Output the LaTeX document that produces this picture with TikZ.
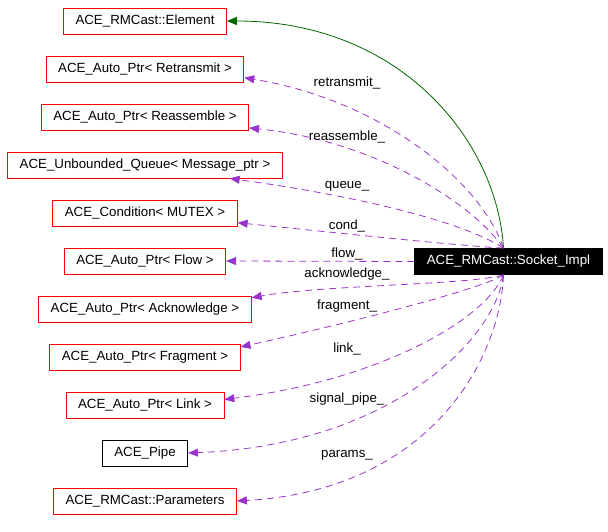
\documentclass[tikz,border=0pt]{standalone}
\usepackage{fontspec}
\setmainfont{Liberation Sans}
\usetikzlibrary{shapes,backgrounds}
\usetikzlibrary{arrows.meta}
\definecolor{member}{HTML}{9A32CD}
\definecolor{inherit}{HTML}{006400}
\tikzset{
  cls/.style = {draw = red, minimum height = 26pt, inner xsep = 12pt, inner ysep = 0pt, font = \fontsize{13.3}{16}\selectfont},
  use/.style = {member, dash pattern = on 7pt off 5pt, -{Triangle[length=10pt, width=8pt]}},
  lbl/.style = {font = \fontsize{13.3}{16}\selectfont, inner sep = 0pt}
}
\begin{document}
\begin{tikzpicture}[x = 1pt, y = -1pt, line width = 0.8pt]
\useasboundingbox (0,0) rectangle (608,531);
\node[cls] (elem) at (145,21) {ACE\_RMCast::Element};
\node[cls] (retr) at (145,69) {ACE\_Auto\_Ptr< Retransmit >};
\node[cls] (reas) at (145,117) {ACE\_Auto\_Ptr< Reassemble >};
\node[cls] (queue) at (145,165) {ACE\_Unbounded\_Queue< Message\_ptr >};
\node[cls] (cond) at (145,213) {ACE\_Condition< MUTEX >};
\node[cls] (flow) at (145,261) {ACE\_Auto\_Ptr< Flow >};
\node[cls] (ack) at (145,309) {ACE\_Auto\_Ptr< Acknowledge >};
\node[cls] (frag) at (145,357) {ACE\_Auto\_Ptr< Fragment >};
\node[cls] (link) at (145,405) {ACE\_Auto\_Ptr< Link >};
\node[cls, draw = black] (pipe) at (145,453) {ACE\_Pipe};
\node[cls] (params) at (145,501) {ACE\_RMCast::Parameters};
\node[cls, draw = black, fill = black, text = white] (sock) at (508.5,261.5) {ACE\_RMCast::Socket\_Impl};
\draw[inherit, -{Triangle[length=10pt, width=8pt]}] ([xshift=-5pt]sock.north) .. controls (497,140) and (400,21) .. (elem.east);
\draw[use] ([xshift=-5pt]sock.north) .. controls (480,180) and (380,100) .. (retr.-5);
\draw[use] ([xshift=-5pt]sock.north) .. controls (470,200) and (370,140) .. (reas.-6);
\draw[use] ([xshift=-5pt]sock.north) .. controls (460,220) and (350,195) .. (queue.-9);
\draw[use] ([xshift=-5pt]sock.north) .. controls (450,245) and (330,232) .. (cond.-6);
\draw[use] (sock.west) -- (flow.east);
\draw[use] ([xshift=-5pt]sock.south) .. controls (470,285) and (320,285) .. (ack.6);
\draw[use] ([xshift=-5pt]sock.south) .. controls (480,290) and (340,325) .. (frag.6);
\draw[use] ([xshift=-5pt]sock.south) .. controls (485,320) and (380,380) .. (link.4);
\draw[use] ([xshift=-5pt]sock.south) .. controls (495,340) and (390,445) .. (pipe.east);
\draw[use] ([xshift=-5pt]sock.south) .. controls (500,360) and (430,490) .. (params.east);
\node[lbl] (lretr) at (347,83) {retransmit\_};
\node[lbl] (lreas) at (347,137) {reassemble\_};
\node[lbl] (lqueue) at (347,186) {queue\_};
\node[lbl] (lcond) at (347,226) {cond\_};
\node[lbl] (lflow) at (347,254) {flow\_};
\node[lbl] (lack) at (347,274) {acknowledge\_};
\node[lbl] (lfrag) at (347,306) {fragment\_};
\node[lbl] (llink) at (347,349) {link\_};
\node[lbl] (lpipe) at (347,399) {signal\_pipe\_};
\node[lbl] (lparams) at (347,455) {params\_};
\end{tikzpicture}
\end{document}
